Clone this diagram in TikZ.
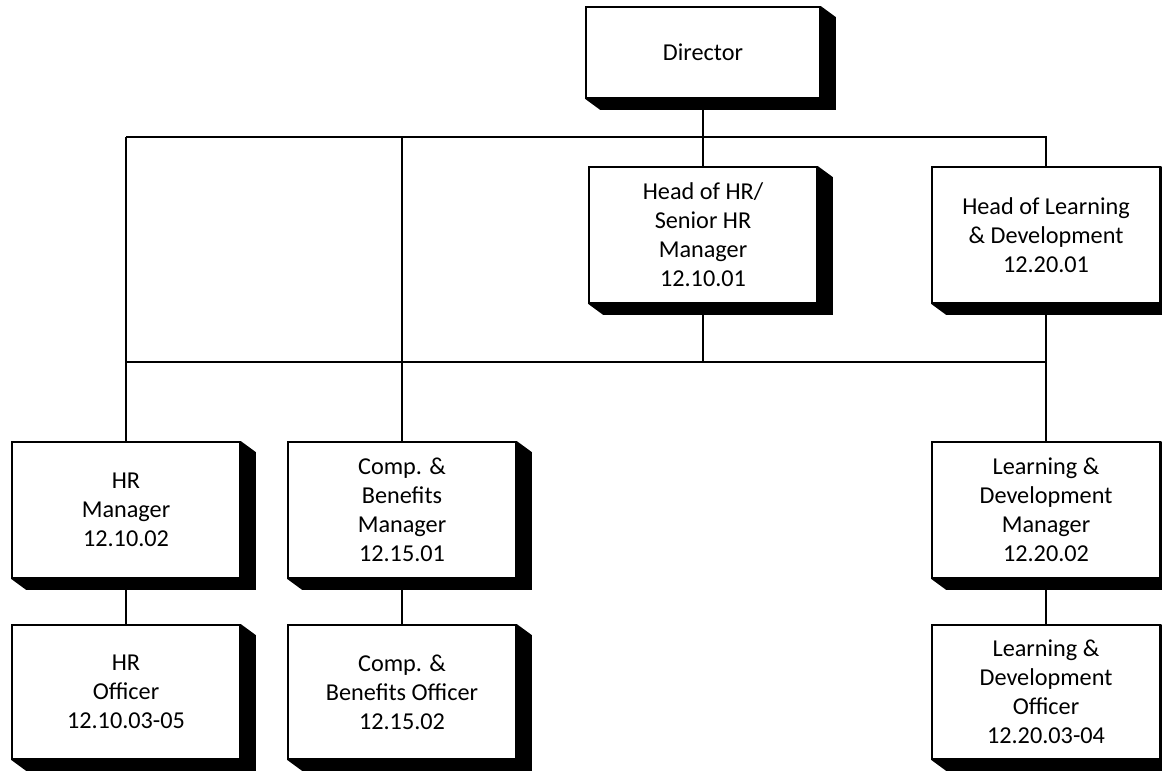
\documentclass[tikz,border=0pt]{standalone}
\usepackage{fontspec}
\setmainfont{Carlito}
\begin{document}
\begin{tikzpicture}[x=0.02cm,y=-0.02cm,
  post/.style={draw,line width=1pt,fill=white,align=center,inner sep=0pt,
    minimum width=4.56cm,minimum height=2.72cm,font=\fontsize{13.8}{16.5}\selectfont},
  link/.style={line width=1pt}]
\useasboundingbox (0,0) rectangle (1162,771);
% posts
\node[post,minimum width=4.68cm,minimum height=1.82cm] (dir) at (703,52.5) {Director};
\node[post] (hohr) at (703,235) {Head of HR/\\Senior HR\\Manager\\12.10.01};
\node[post] (hold) at (1046,235) {Head of Learning\\\& Development\\12.20.01};
\node[post] (hrm) at (126,510) {HR\\Manager\\12.10.02};
\node[post] (cbm) at (402,510) {Comp. \&\\Benefits\\Manager\\12.15.01};
\node[post] (ldm) at (1046,510) {Learning \&\\Development\\Manager\\12.20.02};
\node[post,minimum height=2.68cm] (hro) at (126,692) {HR\\Officer\\12.10.03-05};
\node[post,minimum height=2.68cm] (cbo) at (402,692) {Comp. \&\\Benefits Officer\\12.15.02};
\node[post,minimum height=2.68cm] (ldo) at (1046,692) {Learning \&\\Development\\Officer\\12.20.03-04};
% buses
\coordinate (top) at (0,137);
\coordinate (mid) at (0,362);
\draw[link] (dir) -- (hohr);
\draw[link] (hrm.north |- top) -- (hold.north |- top) -- (hold);
\draw[link] (hrm.north |- top) -- (hrm);
\draw[link] (cbm.north |- top) -- (cbm);
\draw[link] (hrm.north |- mid) -- (ldm.north |- mid);
\draw[link] (hohr) -- (hohr.south |- mid);
\draw[link] (hold) -- (ldm);
\draw[link] (hrm) -- (hro);
\draw[link] (cbm) -- (cbo);
\draw[link] (ldm) -- (ldo);
% shadows
\foreach \n in {dir,hohr,hold,hrm,cbm,ldm,hro,cbo,ldo}
  \fill (\n.north east) -- ++(15,11) -- ([shift={(15,11)}]\n.south east)
    -- ([shift={(15,11)}]\n.south west) -- (\n.south west) -- (\n.south east) -- cycle;
\end{tikzpicture}
\end{document}
